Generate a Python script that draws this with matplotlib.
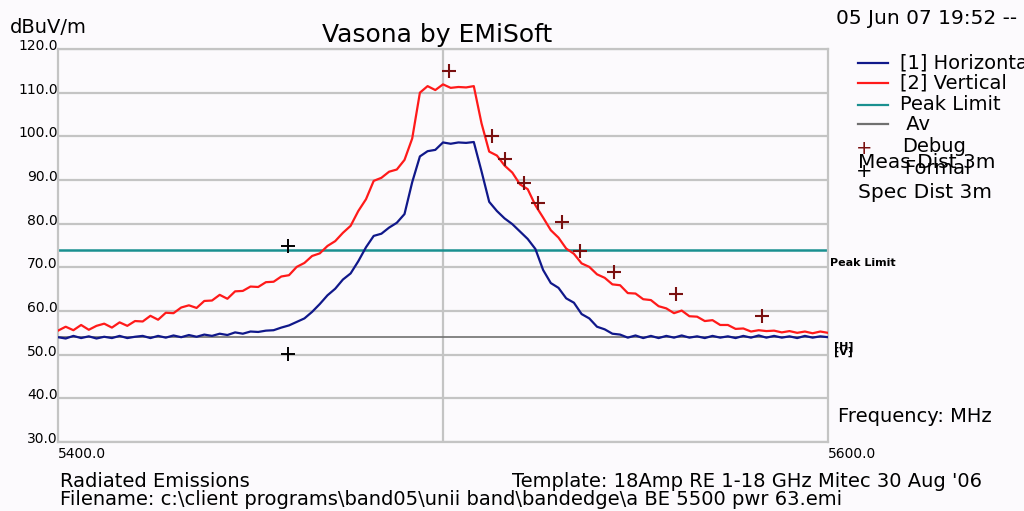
import numpy as np
import matplotlib
matplotlib.use("Agg")
import matplotlib.pyplot as plt
from matplotlib.transforms import ScaledTranslation

# trace levels, 2 MHz apart from 5400 to 5600 MHz
vertical = [55.5, 56.4, 55.6, 56.8, 55.7, 56.6, 57.1, 56.2, 57.4, 56.6,
            57.7, 57.6, 58.9, 58.0, 59.6, 59.5, 60.8, 61.3, 60.7, 62.3,
            62.4, 63.7, 62.8, 64.5, 64.6, 65.6, 65.5, 66.6, 66.7, 67.9,
            68.2, 70.1, 71.0, 72.6, 73.2, 74.9, 76.0, 77.9, 79.5, 82.9,
            85.6, 89.8, 90.5, 91.9, 92.4, 94.6, 99.5, 110.0, 111.5, 110.6,
            111.9, 111.1, 111.3, 111.2, 111.5, 103.0, 96.5, 95.6, 93.3, 91.7,
            89.0, 87.9, 84.2, 81.4, 78.5, 76.8, 74.3, 73.1, 70.9, 70.1,
            68.4, 67.6, 66.1, 65.9, 64.1, 64.0, 62.7, 62.5, 61.1, 60.6,
            59.5, 60.1, 58.8, 58.7, 57.7, 57.9, 56.8, 56.8, 55.9, 56.0,
            55.3, 55.6, 55.4, 55.5, 55.1, 55.4, 55.0, 55.3, 54.9, 55.3,
            55.0]
horizontal = [54.0, 53.7, 54.3, 53.8, 54.2, 53.7, 54.1, 53.8, 54.3, 53.8,
              54.1, 54.3, 53.8, 54.3, 53.9, 54.4, 54.0, 54.5, 54.1, 54.6,
              54.3, 54.8, 54.5, 55.1, 54.8, 55.3, 55.2, 55.5, 55.6, 56.2,
              56.7, 57.5, 58.3, 59.8, 61.6, 63.6, 65.1, 67.2, 68.6, 71.4,
              74.6, 77.2, 77.7, 79.1, 80.2, 82.2, 89.5, 95.4, 96.6, 96.9,
              98.6, 98.3, 98.6, 98.5, 98.7, 92.0, 85.0, 82.9, 81.2, 79.9,
              78.2, 76.5, 74.2, 69.4, 66.4, 65.3, 62.9, 61.9, 59.3, 58.3,
              56.4, 55.8, 54.8, 54.6, 53.9, 54.4, 53.8, 54.3, 53.8, 54.3,
              53.9, 54.4, 53.9, 54.2, 53.8, 54.3, 53.9, 54.2, 53.8, 54.3,
              53.9, 54.4, 53.9, 54.3, 53.9, 54.2, 53.8, 54.3, 53.9, 54.2,
              54.0]
freq_v = np.linspace(5400, 5600, len(vertical))
freq_h = np.linspace(5400, 5600, len(horizontal))

peak_limit = 74.0
av_limit = 54.0

debug_f = [5501.6, 5512.7, 5516.1, 5521.0, 5524.7, 5530.9, 5535.6, 5544.4, 5560.5, 5582.9]
debug_l = [115.0, 100.1, 94.8, 89.3, 84.8, 80.4, 73.8, 69.0, 63.9, 58.9]
formal_f = [5459.7, 5459.7]
formal_l = [74.9, 50.2]

yticks = [30, 40, 50, 60, 70, 80, 90, 100, 110, 120]

bg = '#fcfafd'
grid_c = '#c4c4c4'
blue = '#10188a'
red = '#ff1a1a'
teal = '#1a9090'
grey = '#707070'
dred = '#7a1010'

fig = plt.figure(figsize=(10.24, 5.11), dpi=100, facecolor=bg)
ax = fig.add_axes([58 / 1024, 1 - 442 / 511, 770 / 1024, 393 / 511])
ax.set_facecolor(bg)

ax.set_xlim(5400, 5600)
ax.set_ylim(30, 120)
for y in yticks:
    ax.axhline(y, color=grid_c, lw=1.6, zorder=1)
ax.axvline(5500, color=grid_c, lw=1.6, zorder=1)
for s in ax.spines.values():
    s.set_color(grid_c)
    s.set_linewidth(1.6)

ax.axhline(peak_limit, color=teal, lw=1.8, zorder=2)
ax.axhline(av_limit, color=grey, lw=1.2, zorder=2)
ax.plot(freq_v, vertical, color=red, lw=1.6, zorder=3)
ax.plot(freq_h, horizontal, color=blue, lw=1.6, zorder=4)
ax.plot(debug_f, debug_l, '+', color=dred, ms=10, mew=1.5, zorder=5)
ax.plot(formal_f, formal_l, '+', color='black', ms=10, mew=1.4, zorder=5)

# level labels sit just above their grid lines
ax.set_xticks([])
ax.set_yticks([])
lift = ScaledTranslation(0, 3 / 100, fig.dpi_scale_trans)
for y in yticks:
    ax.text(0.0, y, '%.1f' % y, transform=ax.get_yaxis_transform() + lift,
            ha='right', va='center', fontsize=10, family='DejaVu Sans')
for x in [5400, 5600]:
    ax.text(x, -0.012, '%.1f' % x, transform=ax.get_xaxis_transform(),
            ha='left', va='top', fontsize=10, family='DejaVu Sans')

tfont = dict(family='DejaVu Sans', color='black')
fig.text(437 / 1024, 1 - 35 / 511, 'Vasona by EMiSoft', ha='center', va='center', fontsize=18, **tfont)
fig.text(10 / 1024, 1 - 27 / 511, 'dBuV/m', ha='left', va='center', fontsize=14, **tfont)
fig.text(836 / 1024, 1 - 18 / 511, '05 Jun 07 19:52 --', ha='left', va='center', fontsize=14.5, **tfont)

# legend block
leg_rows = [(63, blue, '[1] Horizontal'), (83, red, '[2] Vertical'),
            (105, teal, 'Peak Limit'), (124, grey, ' Av')]
for yy, c, lab in leg_rows:
    fig.add_artist(plt.Line2D([858 / 1024, 888 / 1024], [1 - yy / 511] * 2, color=c, lw=1.6))
    fig.text(900 / 1024, 1 - yy / 511, lab, ha='left', va='center', fontsize=14, **tfont)
fig.text(864 / 1024, 1 - 148 / 511, '+', ha='center', va='center', fontsize=14, color=dred)
fig.text(902 / 1024, 1 - 146 / 511, 'Debug', ha='left', va='center', fontsize=14, **tfont)
fig.text(864 / 1024, 1 - 171 / 511, '+', ha='center', va='center', fontsize=14, color='black')
fig.text(904 / 1024, 1 - 169 / 511, 'Formal', ha='left', va='center', fontsize=14, **tfont)
fig.text(858 / 1024, 1 - 162 / 511, 'Meas Dist 3m', ha='left', va='center', fontsize=14.5, **tfont)
fig.text(858 / 1024, 1 - 192 / 511, 'Spec Dist 3m', ha='left', va='center', fontsize=14.5, **tfont)

fig.text(830 / 1024, 1 - 263 / 511, 'Peak Limit', ha='left', va='center', fontsize=8, weight='bold', **tfont)
fig.text(834 / 1024, 1 - 347 / 511, '[H]', ha='left', va='center', fontsize=8, weight='bold', **tfont)
fig.text(834 / 1024, 1 - 352 / 511, '[V]', ha='left', va='center', fontsize=8, weight='bold', **tfont)
fig.text(838 / 1024, 1 - 416 / 511, 'Frequency: MHz', ha='left', va='center', fontsize=14, **tfont)

fig.text(60 / 1024, 1 - 481 / 511, 'Radiated Emissions', ha='left', va='center', fontsize=14, **tfont)
fig.text(512 / 1024, 1 - 481 / 511, "Template: 18Amp RE 1-18 GHz Mitec 30 Aug '06",
         ha='left', va='center', fontsize=14, **tfont)
fig.text(60 / 1024, 1 - 499 / 511,
         'Filename: c:\\client programs\\band05\\unii band\\bandedge\\a BE 5500 pwr 63.emi',
         ha='left', va='center', fontsize=14, **tfont)

fig.savefig('out.png', dpi=100, facecolor=bg)
